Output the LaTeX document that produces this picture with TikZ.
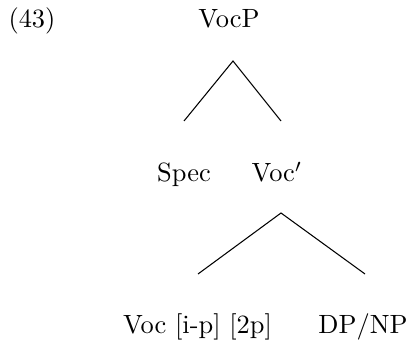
\documentclass[tikz,border=0pt]{standalone}
\begin{document}
\begin{tikzpicture}[x=0.3788pt,y=-0.3788pt,
  lbl/.style={inner sep=0pt,anchor=base},
  edge/.style={line width=0.4pt}]
\useasboundingbox (0,0) rectangle (415,346);
\node[lbl,anchor=base west] (num) at (8,28) {(43)};
\node[lbl] (vocp) at (229,28) {VocP};
\coordinate (a1) at (233,61);
\coordinate (l1) at (184,121);
\coordinate (r1) at (281,121);
\node[lbl] (spec) at (184,182) {Spec};
\node[lbl] (vocbar) at (277,182) {Voc$'$};
\coordinate (a2) at (281,213);
\coordinate (l2) at (198,274);
\coordinate (r2) at (365,274);
\node[lbl] (voc) at (197.5,333) {Voc [i-p] [2p]};
\node[lbl] (dpnp) at (363,333) {DP/NP};
\draw[edge] (l1) -- (a1) -- (r1);
\draw[edge] (l2) -- (a2) -- (r2);
\end{tikzpicture}
\end{document}
